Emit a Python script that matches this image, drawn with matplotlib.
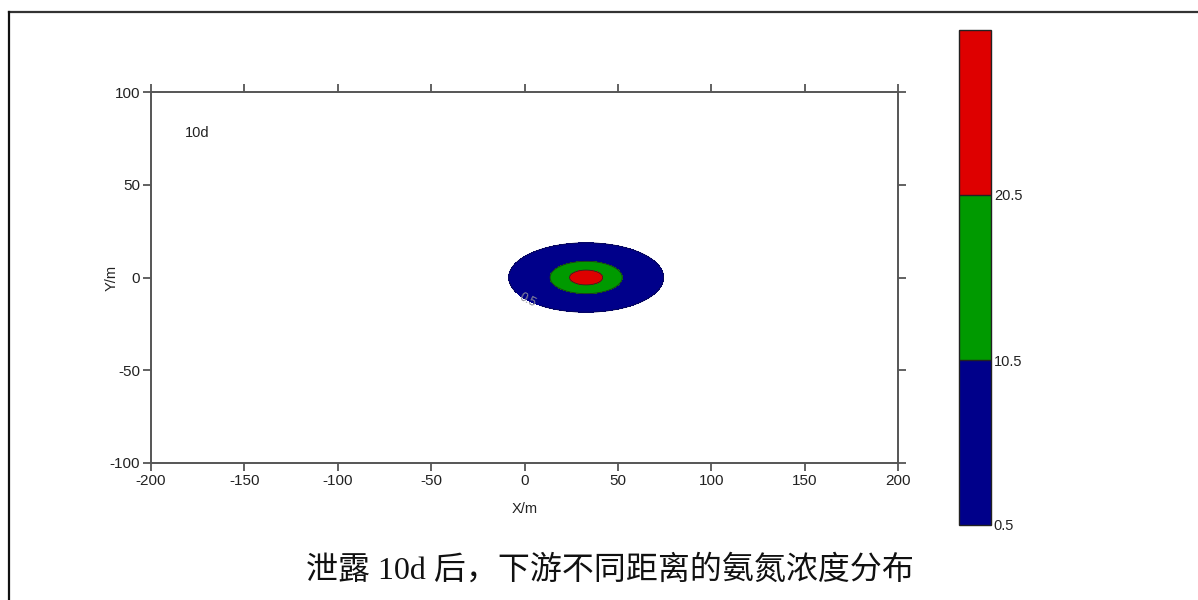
import numpy as np
import matplotlib
matplotlib.use("Agg")
import matplotlib.pyplot as plt
from matplotlib.colors import ListedColormap, BoundaryNorm
from matplotlib.lines import Line2D

# Contour levels of ammonia-nitrogen concentration (mg/L) and their colours
levels = [0.5, 10.5, 20.5, 30.5]
level_labels = ["0.5", "10.5", "20.5"]
fill_colors = ["#00008A", "#009A00", "#DE0000"]

# Plume after 10 days: peak concentration, centre and spread (m)
peak_conc = 24.5
centre_x = 33.0
centre_y = 0.0
sigma_x = 14.85
sigma_y = 6.7

x_ticks = [-200, -150, -100, -50, 0, 50, 100, 150, 200]
y_ticks = [-100, -50, 0, 50, 100]
time_label = "10d"
caption = "泄露 10d 后，下游不同距离的氨氮浓度分布"

plt.rcParams["font.family"] = ["Liberation Sans", "DejaVu Sans"]
plt.rcParams["axes.unicode_minus"] = False

fig = plt.figure(figsize=(11.98, 6.0), dpi=100)

# outer frame (top and left edges)
fig.add_artist(Line2D([9 / 1198, 1.0], [1 - 11.5 / 600, 1 - 11.5 / 600],
                      transform=fig.transFigure, color="#333333", lw=1.6))
fig.add_artist(Line2D([9 / 1198, 9 / 1198], [0.0, 1 - 11.5 / 600],
                      transform=fig.transFigure, color="#111111", lw=1.6))

ax = fig.add_axes([151 / 1198, 1 - 463 / 600, (898 - 151) / 1198, (463 - 92) / 600])

xg = np.linspace(-200, 200, 801)
yg = np.linspace(-100, 100, 401)
X, Y = np.meshgrid(xg, yg)
C = peak_conc * np.exp(-((X - centre_x) ** 2) / (2 * sigma_x ** 2)
                       - ((Y - centre_y) ** 2) / (2 * sigma_y ** 2))

cmap = ListedColormap(fill_colors)
norm = BoundaryNorm(levels, cmap.N)
ax.contourf(X, Y, C, levels=levels, cmap=cmap, norm=norm)
ax.contour(X, Y, C, levels=levels[1:3], colors="#203020", linewidths=0.6)
cl = ax.contour(X, Y, C, levels=levels[:1], colors="#0a0a50", linewidths=0.6)
ax.clabel(cl, fmt={0.5: "0.5"}, manual=[(2, -12)], fontsize=9, colors="#8a8a96",
          inline=True)

ax.set_xlim(-200, 200)
ax.set_ylim(-100, 100)
ax.set_xticks(x_ticks)
ax.set_yticks(y_ticks)
ax.tick_params(direction="out", length=6, width=1.3, color="#555555",
               top=True, right=True, labeltop=False, labelright=False,
               labelsize=11, labelcolor="#222222", pad=2)
for sp in ax.spines.values():
    sp.set_color("#555555")
    sp.set_linewidth(1.4)

ax.set_xlabel("X/m", fontsize=10.5, color="#222222", labelpad=10)
ax.set_ylabel("Y/m", fontsize=10.5, color="#222222")
ax.yaxis.set_label_coords(-0.043, 0.5)
ax.text(-182, 78, time_label, fontsize=10.5, color="#222222", va="center", ha="left")

# colour bar
cax = fig.add_axes([959 / 1198, 1 - 525 / 600, (991 - 959) / 1198, (525 - 30) / 600])
sm = plt.cm.ScalarMappable(cmap=cmap, norm=norm)
cb = fig.colorbar(sm, cax=cax, boundaries=levels, ticks=levels[:3],
                  spacing="uniform")
cb.ax.minorticks_off()
cb.ax.set_yticklabels(level_labels)
cb.ax.tick_params(length=0, pad=2, labelsize=10.5, labelcolor="#222222")
cb.outline.set_edgecolor("#222222")
cb.outline.set_linewidth(1.0)
cb.outline.set_joinstyle("miter")
for lv in levels[1:3]:
    cb.ax.axhline(lv, color="#222222", lw=1.0)

fig.text(610 / 1198, 1 - 570 / 600, caption, fontsize=23, ha="center", va="center",
         family=["Liberation Serif", "Noto Sans CJK SC"], color="#111111")

fig.savefig("out.png", dpi=100, facecolor="white")
